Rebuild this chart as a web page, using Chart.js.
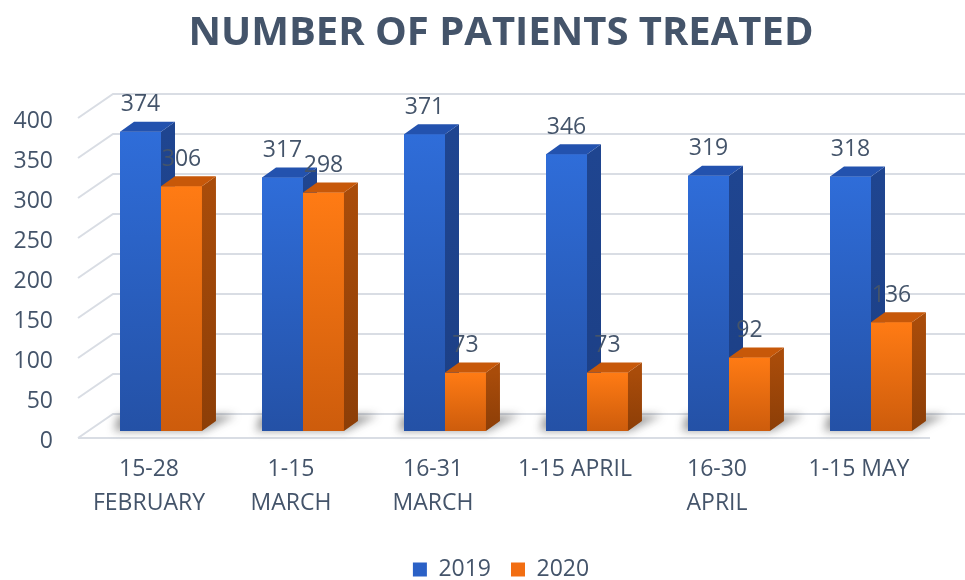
<!DOCTYPE html>
<html>
<head>
<meta charset="utf-8">
<script src="https://cdn.jsdelivr.net/npm/chart.js@4.4.1/dist/chart.umd.min.js"></script>
<style>
    html, body { margin: 0; padding: 0; background: #fff; }
</style>
</head>
<body>
<canvas id="patientsChart" width="965" height="580"></canvas>
<script>
// Data
const periods = [['15-28', 'FEBRUARY'], ['1-15', 'MARCH'], ['16-31', 'MARCH'], '1-15 APRIL', ['16-30', 'APRIL'], '1-15 MAY'];
const patients2019 = [374, 317, 371, 346, 319, 318];
const patients2020 = [306, 298, 73, 73, 92, 136];
const seriesNames = ['2019', '2020'];
const yMin = 0;
const yMax = 400;
const yStep = 50;

const textColor = '#44546a';
const fontFamily = '"Open Sans", "DejaVu Sans", sans-serif';

// 3D look: depth of each bar and of the back wall
const DX = 14, DY = -10;
const WALL_LEFT = 78, WALL_DX = 35, WALL_DY = -24, FLOOR_DROP = 7;
const Y_LABEL_RIGHT = 53, Y_LABEL_DROP = 10;

const faceColors = [
    { flat: '#2b61c6', top: '#2f6dd9', bottom: '#2451a6', side: '#1f4590', sideDark: '#1c3f85', cap: '#2352ae' },
    { flat: '#f26e12', top: '#ff7b14', bottom: '#cd5c0c', side: '#a94c0a', sideDark: '#8c3e07', cap: '#c75809' }
];

function drawBars(ctx, meta, c) {
    meta.data.forEach(bar => {
        const { x, y, base, width } = bar.getProps(['x', 'y', 'base', 'width'], true);
        const l = x - width / 2, r = x + width / 2;

        const front = ctx.createLinearGradient(0, y, 0, base);
        front.addColorStop(0, c.top);
        front.addColorStop(1, c.bottom);
        ctx.fillStyle = front;
        ctx.fillRect(l, y, width, base - y);

        const side = ctx.createLinearGradient(0, y, 0, base);
        side.addColorStop(0, c.side);
        side.addColorStop(1, c.sideDark);
        ctx.fillStyle = side;
        ctx.beginPath();
        ctx.moveTo(r, y);
        ctx.lineTo(r + DX, y + DY);
        ctx.lineTo(r + DX, base + DY);
        ctx.lineTo(r, base);
        ctx.closePath();
        ctx.fill();

        ctx.fillStyle = c.cap;
        ctx.beginPath();
        ctx.moveTo(l, y);
        ctx.lineTo(l + DX, y + DY);
        ctx.lineTo(r + DX, y + DY);
        ctx.lineTo(r, y);
        ctx.closePath();
        ctx.fill();
    });
}

function drawValues(ctx, meta, values) {
    ctx.fillStyle = textColor;
    ctx.font = '23px ' + fontFamily;
    ctx.textAlign = 'center';
    ctx.textBaseline = 'middle';
    meta.data.forEach((bar, i) => {
        ctx.fillText(values[i], bar.x, bar.y - 27);
    });
}

// walls, floor, shadows, y labels, then the 3D bars and value labels
const bar3d = {
    id: 'bar3d',
    beforeDatasetsDraw(chart) {
        const ctx = chart.ctx;
        const yScale = chart.scales.y;
        ctx.save();
        ctx.strokeStyle = '#d9dde4';
        ctx.lineWidth = 2;
        yScale.ticks.forEach(t => {
            const fy = yScale.getPixelForValue(t.value) + FLOOR_DROP;
            ctx.beginPath();
            ctx.moveTo(WALL_LEFT, fy);
            ctx.lineTo(WALL_LEFT + WALL_DX, fy + WALL_DY);
            ctx.lineTo(chart.width, fy + WALL_DY);
            ctx.stroke();
        });
        const floorY = yScale.getPixelForValue(yMin) + FLOOR_DROP;
        ctx.beginPath();
        ctx.moveTo(WALL_LEFT, floorY);
        ctx.lineTo(chart.chartArea.right - 12, floorY);
        ctx.stroke();

        // y axis labels, at the front edge of the floor
        ctx.fillStyle = textColor;
        ctx.font = '23px ' + fontFamily;
        ctx.textAlign = 'right';
        ctx.textBaseline = 'middle';
        yScale.ticks.forEach(t => {
            ctx.fillText(t.label, Y_LABEL_RIGHT, yScale.getPixelForValue(t.value) + Y_LABEL_DROP);
        });

        // soft shadows on the floor
        const m0 = chart.getDatasetMeta(0).data;
        const m1 = chart.getDatasetMeta(1).data;
        ctx.filter = 'blur(4px)';
        ctx.fillStyle = 'rgba(40, 40, 40, 0.45)';
        m0.forEach((b, i) => {
            const l = b.x - b.width / 2;
            const r = m1[i].x + m1[i].width / 2;
            const base = b.base;
            ctx.beginPath();
            ctx.moveTo(l - 6, base);
            ctx.lineTo(r + 2, base);
            ctx.lineTo(r + DX + 20, base + DY - 6);
            ctx.lineTo(l + DX - 16, base + DY - 6);
            ctx.closePath();
            ctx.fill();
        });
        ctx.restore();
    },
    afterDatasetsDraw(chart) {
        const ctx = chart.ctx;
        const m0 = chart.getDatasetMeta(0);
        const m1 = chart.getDatasetMeta(1);
        ctx.save();
        drawBars(ctx, m0, faceColors[0]);
        drawBars(ctx, m1, faceColors[1]);
        drawValues(ctx, m0, chart.data.datasets[0].data);
        drawValues(ctx, m1, chart.data.datasets[1].data);
        ctx.restore();
    }
};

const ctx = document.getElementById('patientsChart').getContext('2d');
const patientsChart = new Chart(ctx, {
    type: 'bar',
    data: {
        labels: periods,
        datasets: [{
            label: seriesNames[0],
            data: patients2019,
            backgroundColor: faceColors[0].flat
        }, {
            label: seriesNames[1],
            data: patients2020,
            backgroundColor: faceColors[1].flat
        }]
    },
    options: {
        responsive: false,
        animation: false,
        devicePixelRatio: 1,
        categoryPercentage: 0.577,
        barPercentage: 1,
        layout: {
            padding: { left: 60, right: 23, top: 0, bottom: 0 }
        },
        plugins: {
            title: {
                display: true,
                text: 'NUMBER OF PATIENTS TREATED',
                color: textColor,
                font: { family: fontFamily, size: 40, weight: 'bold', lineHeight: 1.2 },
                padding: { top: 10, bottom: 53 }
            },
            legend: {
                position: 'bottom',
                maxHeight: 42,
                labels: {
                    color: textColor,
                    font: { family: fontFamily, size: 23 },
                    boxWidth: 14,
                    boxHeight: 14,
                    padding: 20
                }
            },
            tooltip: { enabled: false }
        },
        scales: {
            x: {
                grid: { display: false, drawTicks: false },
                border: { display: false },
                ticks: {
                    color: textColor,
                    font: { family: fontFamily, size: 23, lineHeight: 1.5 },
                    padding: 21,
                    labelOffset: -12,
                    maxRotation: 0,
                    autoSkip: false
                },
                afterFit: function(scale) {
                    scale.height = 107;
                }
            },
            y: {
                min: yMin,
                max: yMax,
                grid: { display: false, drawTicks: false },
                border: { display: false },
                ticks: {
                    stepSize: yStep,
                    display: false
                },
                afterFit: function(scale) {
                    scale.width = 30;
                }
            }
        }
    },
    plugins: [bar3d]
});
</script>
</body>
</html>
